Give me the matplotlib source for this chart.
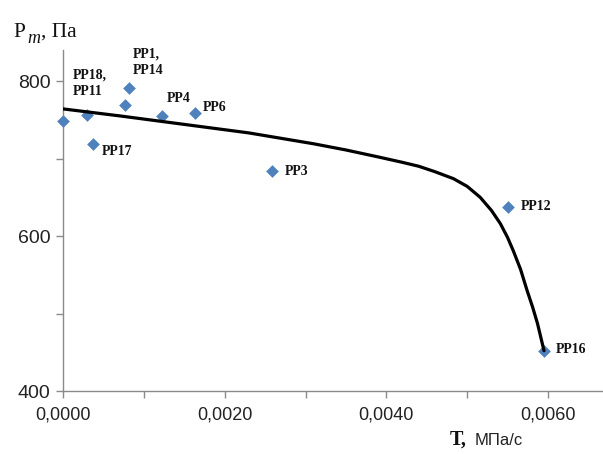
import matplotlib
matplotlib.use("Agg")
import matplotlib.pyplot as plt
from matplotlib.ticker import MultipleLocator, FuncFormatter

# ---------------------------------------------------------------------------
# Data
# ---------------------------------------------------------------------------
point_x = [0.0, 0.00030, 0.00037, 0.00077, 0.00082, 0.00122, 0.00163, 0.00259, 0.00550, 0.00595]
point_y = [749, 756, 719, 769, 791, 755, 759, 684, 637, 452]
point_labels = ["", "PP18,\nPP11", "PP17", "", "PP1,\nPP14", "PP4", "PP6", "PP3", "PP12", "PP16"]
# label offsets in pixels (dx, dy)
label_offsets = [(0, 0), (-14, 32), (9, -8), (0, 0), (4, 26), (5, 17), (8, 5), (12, -1), (13, 1), (12, 1)]

# trend line
curve_x = [0.0, 0.0007, 0.0015, 0.0023, 0.0031, 0.0035, 0.0039, 0.0042, 0.0044, 0.0046,
           0.00483, 0.0050, 0.00516, 0.0053, 0.00541, 0.0055, 0.00557, 0.00566,
           0.00574, 0.00581, 0.00587, 0.00595]
curve_y = [764, 755, 744, 733, 719, 711, 702, 695, 690, 683,
           674, 664, 650, 633, 616, 598, 581, 557,
           530, 508, 487, 452]

# ---------------------------------------------------------------------------
# Figure
# ---------------------------------------------------------------------------
W, H = 603, 454
fig = plt.figure(figsize=(W / 100, H / 100), dpi=100)
ax = fig.add_axes([63 / W, 1 - 391 / H, 540 / W, 341 / H])

ax.scatter(point_x, point_y, marker="D", s=42, color="#4F81BD", zorder=3, clip_on=False, linewidths=0)
ax.plot(curve_x, curve_y, color="black", lw=2.3, zorder=4, solid_capstyle="round",
        solid_joinstyle="round")

for x, y, lab, (dx, dy) in zip(point_x, point_y, point_labels, label_offsets):
    if lab:
        ax.annotate(lab, (x, y), xytext=(dx, dy), textcoords="offset pixels",
                    ha="left", va="center", fontsize=10, fontweight="bold",
                    family="Liberation Serif", linespacing=1.35, color="#111111")

ax.set_xlim(0, 0.00668)
ax.set_ylim(400, 840)

ax.xaxis.set_major_locator(MultipleLocator(0.002))
ax.xaxis.set_minor_locator(MultipleLocator(0.001))
ax.yaxis.set_major_locator(MultipleLocator(200))
ax.yaxis.set_minor_locator(MultipleLocator(100))
ax.xaxis.set_major_formatter(FuncFormatter(lambda v, p: f"{v:.4f}".replace(".", ",")))
ax.yaxis.set_major_formatter(FuncFormatter(lambda v, p: f"{v:.0f}"))

for s in ["top", "right"]:
    ax.spines[s].set_visible(False)
for s in ["left", "bottom"]:
    ax.spines[s].set_color("#8a8a8a")
    ax.spines[s].set_linewidth(1.0)

ax.tick_params(which="both", direction="out", length=5, width=1.0, color="#8a8a8a")
ax.tick_params(axis="x", pad=6, labelsize=13, labelcolor="#222222")
ax.tick_params(axis="y", pad=4, labelsize=14, labelcolor="#222222")
for t in ax.get_xticklabels() + ax.get_yticklabels():
    t.set_family("Liberation Sans")

# y axis title: P, italic subscript m, ", Па"
fig.text(13 / W, 1 - 37 / H, "P", fontsize=15.5, family="Liberation Serif",
         ha="left", va="baseline", color="#111111")
fig.text(27 / W, 1 - 43 / H, "m", fontsize=13, family="Liberation Serif", style="italic",
         ha="left", va="baseline", color="#111111")
fig.text(41 / W, 1 - 37 / H, ", Па", fontsize=15.5, family="Liberation Serif",
         ha="left", va="baseline", color="#111111")

# x axis title
fig.text(450 / W, 1 - 445 / H, "T,", fontsize=14.5, family="Liberation Serif",
         fontweight="bold", ha="left", va="baseline", color="#111111")
fig.text(475 / W, 1 - 445 / H, "МПа/с", fontsize=12, family="Liberation Sans",
         ha="left", va="baseline", color="#222222")

fig.savefig("out.png", dpi=100)
